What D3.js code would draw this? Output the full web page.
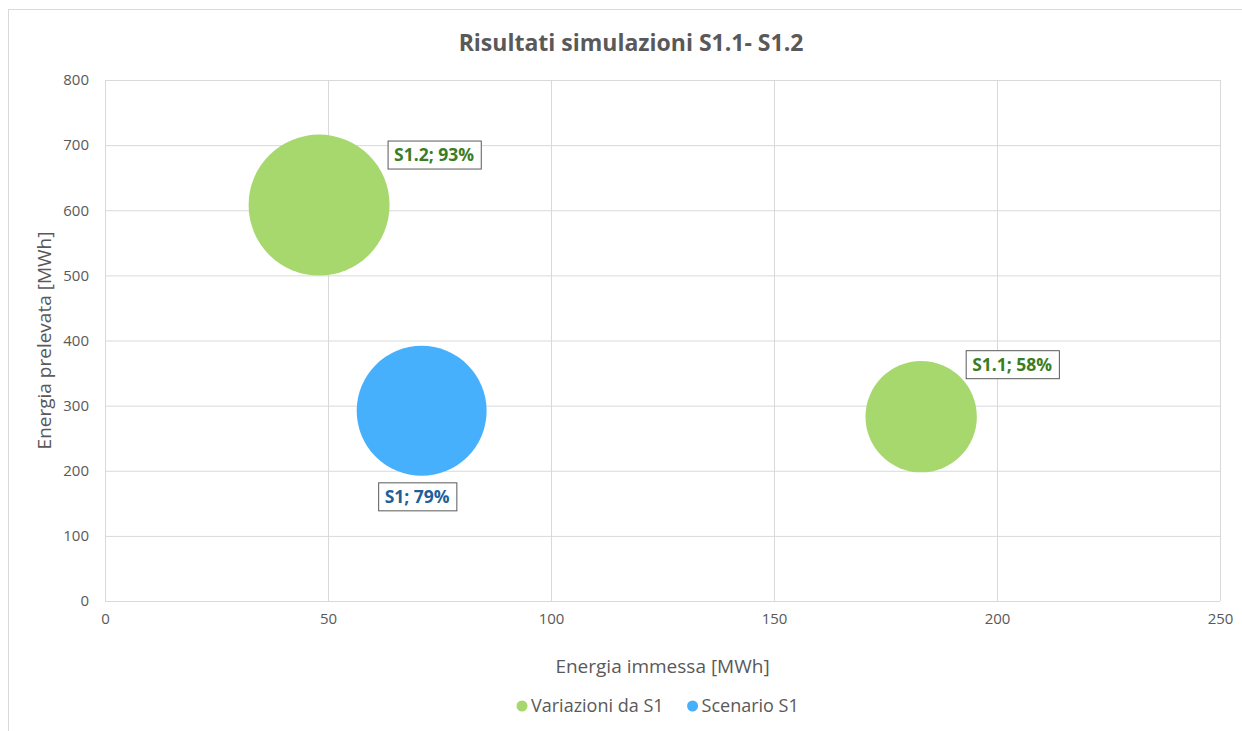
<!DOCTYPE html>
<html>
<head>
<meta charset="utf-8">
<script src="https://cdn.jsdelivr.net/npm/d3@7"></script>
<style>
  body { margin: 0; background: #fff; }
  text { font-family: "Open Sans", "Liberation Sans", sans-serif; }
</style>
</head>
<body>
<div id="chart"></div>
<script>
// Dati
const names = ["S1.2", "S1", "S1.1"];
const immessa = [48, 71, 183];     // asse x, MWh
const prelevata = [608, 292, 283]; // asse y, MWh
const quota = [93, 79, 58];        // dimensione bolla, %
const gruppo = ["Variazioni da S1", "Scenario S1", "Variazioni da S1"];
const seriesNames = ["Variazioni da S1", "Scenario S1"];
const xTicks = [0, 50, 100, 150, 200, 250];
const yTicks = [0, 100, 200, 300, 400, 500, 600, 700, 800];

const fill = {"Variazioni da S1": "#a6d86e", "Scenario S1": "#47b0fc"};
const labelColor = {"Variazioni da S1": "#3b7d23", "Scenario S1": "#215f9a"};

const W = 1242, H = 731;
const margin = {top: 80, right: 22, bottom: 130, left: 105};
const width = W - margin.left - margin.right,
      height = H - margin.top - margin.bottom;

const svg = d3.select("#chart").append("svg")
    .attr("width", W).attr("height", H);

// bordo esterno
svg.append("rect")
    .attr("x", 8.5).attr("y", 9.5)
    .attr("width", W).attr("height", H)
    .attr("fill", "none").attr("stroke", "#d9d9d9");

svg.append("text")
    .attr("x", 631).attr("y", 51)
    .attr("text-anchor", "middle")
    .style("font-size", "23px").style("font-weight", "bold")
    .attr("fill", "#595959")
    .text("Risultati simulazioni S1.1- S1.2");

const g = svg.append("g")
    .attr("transform", "translate(" + margin.left + "," + margin.top + ")");

const x = d3.scaleLinear().domain([0, 250]).range([0, width]);
const y = d3.scaleLinear().domain([0, 800]).range([height, 0]);
const r = d3.scaleSqrt().domain([0, 93]).range([0, 70.5]);

// griglia
g.append("g")
    .call(d3.axisLeft(y).tickValues(yTicks).tickSize(-width).tickFormat(""))
    .call(a => a.select(".domain").remove())
    .selectAll("line").attr("stroke", "#d9d9d9");
g.append("g")
    .attr("transform", "translate(0," + height + ")")
    .call(d3.axisBottom(x).tickValues(xTicks).tickSize(-height).tickFormat(""))
    .call(a => a.select(".domain").remove())
    .selectAll("line").attr("stroke", "#d9d9d9");

// etichette assi
const yAxis = g.append("g")
    .call(d3.axisLeft(y).tickValues(yTicks).tickSize(0).tickPadding(16));
yAxis.select(".domain").remove();
yAxis.selectAll("text").style("font-size", "15px").attr("fill", "#595959");

const xAxis = g.append("g")
    .attr("transform", "translate(0," + height + ")")
    .call(d3.axisBottom(x).tickValues(xTicks).tickSize(0).tickPadding(12));
xAxis.select(".domain").remove();
xAxis.selectAll("text").style("font-size", "15px").attr("fill", "#595959");

// bolle
const data = names.map((n, i) => ({name: n, x: immessa[i], y: prelevata[i], v: quota[i], s: gruppo[i]}));
g.selectAll("circle.bubble")
    .data(data).enter().append("circle")
    .attr("class", "bubble")
    .attr("cx", d => x(d.x))
    .attr("cy", d => y(d.y))
    .attr("r", d => r(d.v))
    .attr("fill", d => fill[d.s]);

// etichette dati (offset: bordo sinistro del riquadro, centro verticale)
const offs = {"S1.2": [69, -50], "S1": [-43, 86], "S1.1": [45, -52]};
data.forEach(d => {
    const bx = x(d.x) + offs[d.name][0], cy = y(d.y) + offs[d.name][1];
    const lg = g.append("g");
    const t = lg.append("text")
        .attr("x", bx + 6).attr("y", cy)
        .attr("dy", "0.35em")
        .style("font-size", "17.5px").style("font-weight", "bold")
        .attr("fill", labelColor[d.s])
        .text(d.name + "; " + d.v + "%");
    const bb = t.node().getBBox();
    lg.insert("rect", "text")
        .attr("x", bx).attr("y", cy - 14)
        .attr("width", bb.width + 13).attr("height", 28)
        .attr("fill", "#fff").attr("stroke", "#595959");
});

// titoli assi
svg.append("text")
    .attr("x", margin.left + width / 2).attr("y", 673)
    .attr("text-anchor", "middle")
    .style("font-size", "19px").attr("fill", "#595959")
    .text("Energia immessa [MWh]");
svg.append("text")
    .attr("transform", "translate(51," + (margin.top + height / 2) + ") rotate(-90)")
    .attr("text-anchor", "middle")
    .style("font-size", "19px").attr("fill", "#595959")
    .text("Energia prelevata [MWh]");

// legenda
const leg = svg.append("g");
let lx = 522;
seriesNames.forEach(s => {
    leg.append("circle").attr("cx", lx).attr("cy", 706).attr("r", 5.5).attr("fill", fill[s]);
    const t = leg.append("text").attr("x", lx + 9).attr("y", 706).attr("dy", "0.35em")
        .style("font-size", "18px").attr("fill", "#595959").text(s);
    lx += t.node().getBBox().width + 38;
});
</script>
</body>
</html>
